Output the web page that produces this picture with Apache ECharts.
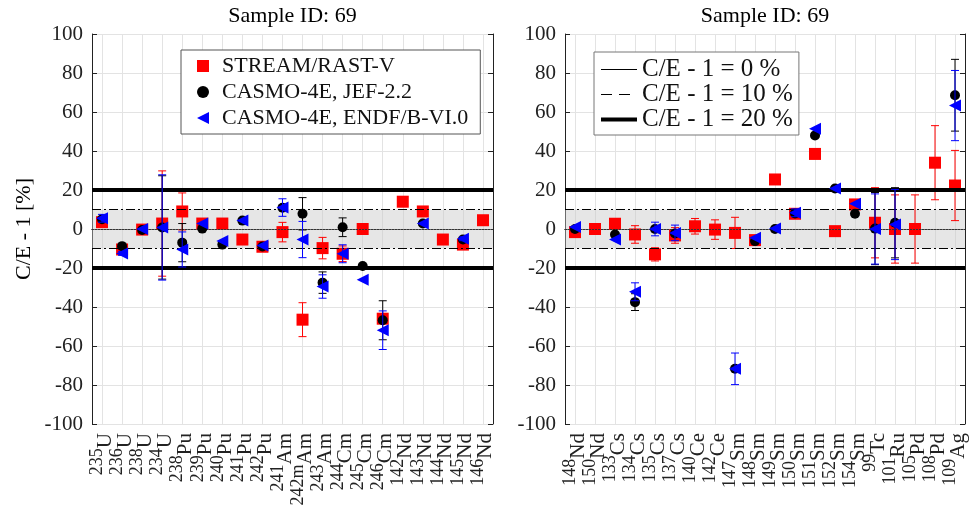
<!DOCTYPE html>
<html>
<head>
<meta charset="utf-8">
<script src="https://cdn.jsdelivr.net/npm/echarts@6/dist/echarts.min.js"></script>
<style>
html,body{margin:0;padding:0;background:#fff;}
#chart{width:973px;height:522px;}
</style>
</head>
<body>
<div id="chart"></div>
<script>
// ---------- DATA ----------
const title = 'Sample ID: 69';
const yTitle = 'C/E - 1 [%]';
const seriesNames = ['STREAM/RAST-V', 'CASMO-4E, JEF-2.2', 'CASMO-4E, ENDF/B-VI.0'];
const refNames = ['C/E - 1 = 0 %', 'C/E - 1 = 10 %', 'C/E - 1 = 20 %'];

const leftCats = ['235U','236U','238U','234U','238Pu','239Pu','240Pu','241Pu','242Pu','241Am',
                  '242mAm','243Am','244Cm','245Cm','246Cm','142Nd','143Nd','144Nd','145Nd','146Nd'];
const leftStream = [3.5,-10.5,-0.3,2.8,9,2.8,2.8,-5.4,-9.1,-1.6,-46.5,-9.8,-12.7,0,-46,14,9,-5.4,-8,4.5];
const leftStreamErr = [1,1,0,27,9.5,0,0,0,0,5,8.7,5.5,4,0,0,2.5,0,0,1,0];
const leftJef = [5,-8.8,-0.5,0.8,-7,0.2,-8,4.3,-9,10.9,7.8,-27.5,0.9,-19,-46.8,null,2.8,null,-5.4,null];
const leftJefErr = [1,1,0,26.5,9.8,0,0,0,0,0,8.3,5.5,4.8,0,10,0,0,0,0,0];
const leftEndf = [5.5,-12.5,0,0.8,-10.5,2.8,-6.2,4.3,-8.5,11,-5.4,-29.5,-12.7,-26,-51.9,null,2.8,null,-5,null];
const leftEndfErr = [2,1,0,27,9,0,0,0,0,4.5,9.3,6,4.6,0,9.9,0,0,0,1,0];

const rightCats = ['148Nd','150Nd','133Cs','134Cs','135Cs','137Cs','140Ce','142Ce','147Sm','148Sm',
                   '149Sm','150Sm','151Sm','152Sm','154Sm','99Tc','101Ru','105Pd','108Pd','109Ag'];
const rightStream = [-1.6,0,2.7,-2.8,-13,-3.3,1.4,-0.3,-2,-5.7,25.4,7.8,38.5,-1.1,12.6,3.2,0,0,34,22.3];
const rightStreamErr = [0,0,0,4.5,3.4,4,4,5,8,0,0,0,0,0,0,18,17.5,17.5,19,18];
const rightJef = [0,null,-2.8,-37.5,0,-2.3,null,null,-71.7,-6.2,0,8,48,20.8,7.8,0.2,3.2,null,null,68.6];
const rightJefErr = [0,0,0,4.3,0,0,0,0,0,0,0,0,0,0,0,18.5,18,0,0,18.4];
const rightEndf = [1,null,-5.4,-32.2,0,-2,null,null,-71.7,-4.5,0.3,8.3,51.4,20.8,13,0,2.3,null,null,63.3];
const rightEndfErr = [0,0,0,4.6,3.5,4,0,0,8.1,0,0,2,0,0,0,18,18,0,0,18];

const yTicks = {min: -100, max: 100, interval: 20};
// ---------- END DATA ----------

const FONT = '"Liberation Serif","Times New Roman",serif';
const RED = '#ff0000', BLK = '#000000', BLU = '#0000ff';

function labelFmt(v){
  const m = v.match(/^(\d+m?)(.*)$/);
  return '{m|' + m[1] + '}{e|' + m[2] + '}';
}

function errRender(color){
  return function(params, api){
    const x = api.value(0), y = api.value(1), e = api.value(2);
    const t = api.coord([x, y + e]), b = api.coord([x, y - e]);
    const w = 4;
    const st = {stroke: color, lineWidth: 1};
    return {type: 'group', children: [
      {type: 'line', shape: {x1: t[0], y1: t[1], x2: b[0], y2: b[1]}, style: st},
      {type: 'line', shape: {x1: t[0]-w, y1: t[1], x2: t[0]+w, y2: t[1]}, style: st},
      {type: 'line', shape: {x1: b[0]-w, y1: b[1], x2: b[0]+w, y2: b[1]}, style: st}
    ]};
  };
}

function pts(vals){ return vals.map((v,i)=> v==null ? null : [i, v]).filter(Boolean); }
function errPts(vals, errs){ return vals.map((v,i)=> (v==null || !errs[i]) ? null : [i, v, errs[i]]).filter(Boolean); }

const gridL = {left: 92, top: 33, width: 401, height: 391};
const gridR = {left: 565, top: 33, width: 400, height: 391};

function xAxes(cats, gi){
  return [
    {type: 'category', gridIndex: gi, data: cats, position: 'bottom', boundaryGap: true,
     axisLine: {lineStyle: {color: '#222', width: 1}},
     axisTick: {inside: true, length: 5, alignWithLabel: true, lineStyle: {color: '#222'}},
     splitLine: {show: true, alignWithLabel: true, lineStyle: {color: '#e3e3e3', width: 1}},
     axisLabel: {interval: 0, rotate: 90, margin: 9, formatter: labelFmt,
       rich: {m: {fontFamily: FONT, fontSize: 18, color: '#222', verticalAlign: 'top', lineHeight: 18},
              e: {fontFamily: FONT, fontSize: 21, color: '#222', lineHeight: 27, verticalAlign: 'bottom'}}}},
    {type: 'category', gridIndex: gi, data: cats, position: 'top', boundaryGap: true,
     name: title, nameLocation: 'middle', nameGap: 7,
     nameTextStyle: {fontFamily: FONT, fontSize: 22, color: '#000'},
     axisLine: {lineStyle: {color: '#222', width: 1}},
     axisTick: {inside: true, length: 5, alignWithLabel: true, lineStyle: {color: '#222'}},
     axisLabel: {show: false}, splitLine: {show: false}}
  ];
}
function yAxes(gi, withName){
  const base = {type: 'value', gridIndex: gi, min: yTicks.min, max: yTicks.max, interval: yTicks.interval};
  return [
    Object.assign({}, base, {position: 'left',
      name: withName ? yTitle : '', nameLocation: 'middle', nameGap: 57, nameRotate: 90,
      nameTextStyle: {fontFamily: FONT, fontSize: 22, color: '#000'},
      axisLine: {show: true, lineStyle: {color: '#222'}},
      axisTick: {show: true, inside: true, length: 5, lineStyle: {color: '#222'}},
      splitLine: {show: true, lineStyle: {color: '#e3e3e3'}},
      axisLabel: {fontFamily: FONT, fontSize: 21, color: '#222', margin: 9}}),
    Object.assign({}, base, {position: 'right',
      axisLine: {show: true, lineStyle: {color: '#222'}},
      axisTick: {show: true, inside: true, length: 5, lineStyle: {color: '#222'}},
      splitLine: {show: false}, axisLabel: {show: false}})
  ];
}

function refSeries(xi, yi){
  return [
    {type: 'line', name: '_band', xAxisIndex: xi, yAxisIndex: yi, data: [], z: 1, silent: true,
     markArea: {silent: true, itemStyle: {color: 'rgba(200,200,200,0.45)'}, data: [[{yAxis: -10}, {yAxis: 10}]]}},
    {type: 'line', name: refNames[0], xAxisIndex: xi, yAxisIndex: yi, data: [], z: 2, symbol: 'none',
     itemStyle: {color: '#000'},
     lineStyle: {color: '#000', width: 1, type: 'solid'},
     markLine: {silent: true, symbol: 'none', label: {show: false},
       lineStyle: {color: '#333', width: 1, type: [2, 1]}, data: [{yAxis: 0}]}},
    {type: 'line', name: refNames[1], xAxisIndex: xi, yAxisIndex: yi, data: [], z: 2, symbol: 'none',
     itemStyle: {color: '#000'},
     lineStyle: {color: '#000', width: 1, type: [10, 6]},
     markLine: {silent: true, symbol: 'none', label: {show: false},
       lineStyle: {color: '#000', width: 1, type: [9, 3, 2, 3]}, data: [{yAxis: 10}, {yAxis: -10}]}},
    {type: 'line', name: refNames[2], xAxisIndex: xi, yAxisIndex: yi, data: [], z: 2, symbol: 'none',
     itemStyle: {color: '#000'},
     lineStyle: {color: '#000', width: 4, type: 'solid'},
     markLine: {silent: true, symbol: 'none', label: {show: false},
       lineStyle: {color: '#000', width: 4, type: 'solid'}, data: [{yAxis: 20}, {yAxis: -20}]}}
  ];
}

function dataSeries(xi, yi, s, se, j, je, e, ee){
  return [
    {type: 'scatter', name: seriesNames[0], xAxisIndex: xi, yAxisIndex: yi, z: 4, symbol: 'rect', symbolSize: 12,
     itemStyle: {color: RED, opacity: 1}, data: pts(s)},
    {type: 'scatter', name: seriesNames[1], xAxisIndex: xi, yAxisIndex: yi, z: 6, symbol: 'circle', symbolSize: 10,
     itemStyle: {color: BLK, opacity: 1}, data: pts(j)},
    {type: 'scatter', name: seriesNames[2], xAxisIndex: xi, yAxisIndex: yi, z: 8, symbol: 'triangle', symbolSize: 12, symbolRotate: 90,
     itemStyle: {color: BLU, opacity: 1}, data: pts(e)},
    {type: 'custom', name: seriesNames[0] + ' err', xAxisIndex: xi, yAxisIndex: yi, z: 3, renderItem: errRender(RED), data: errPts(s, se), encode: {x: 0, y: 1}},
    {type: 'custom', name: seriesNames[1] + ' err', xAxisIndex: xi, yAxisIndex: yi, z: 5, renderItem: errRender(BLK), data: errPts(j, je), encode: {x: 0, y: 1}},
    {type: 'custom', name: seriesNames[2] + ' err', xAxisIndex: xi, yAxisIndex: yi, z: 7, renderItem: errRender(BLU), data: errPts(e, ee), encode: {x: 0, y: 1}}
  ];
}

const chart = echarts.init(document.getElementById('chart'), null, {renderer: 'canvas'});
chart.setOption({
  animation: false,
  backgroundColor: '#fff',
  grid: [gridL, gridR],
  xAxis: [].concat(xAxes(leftCats, 0), xAxes(rightCats, 1)),
  yAxis: [].concat(yAxes(0, true), yAxes(1, false)),
  legend: [
    {data: [
       {name: seriesNames[0], icon: 'rect'},
       {name: seriesNames[1], icon: 'circle'},
       {name: seriesNames[2], icon: 'path://M0,5L10,0L10,10Z'}
     ],
     orient: 'vertical', left: 181, top: 50,
     backgroundColor: '#fff', borderColor: '#555', borderWidth: 1, borderRadius: 0,
     padding: [5, 12, 5, 16], itemWidth: 12, itemHeight: 12, itemGap: 4,
     textStyle: {fontFamily: FONT, fontSize: 22, color: '#111', lineHeight: 22, padding: [0, 0, 0, 8]},
     selectedMode: false},
    {data: [
       {name: refNames[0], lineStyle: {color: '#000', width: 1, type: 'solid'}},
       {name: refNames[1], lineStyle: {color: '#000', width: 1, type: [11, 7]}},
       {name: refNames[2], lineStyle: {color: '#000', width: 4, type: 'solid'}}
     ],
     orient: 'vertical', left: 594, top: 52,
     backgroundColor: '#fff', borderColor: '#777', borderWidth: 1, borderRadius: 0,
     padding: [5, 6, 3, 5], itemWidth: 36, itemHeight: 14, itemGap: 0,
     itemStyle: {opacity: 0},
     textStyle: {fontFamily: FONT, fontSize: 25, color: '#111', lineHeight: 25},
     selectedMode: false}
  ],
  series: [].concat(
    refSeries(0, 0),
    dataSeries(0, 0, leftStream, leftStreamErr, leftJef, leftJefErr, leftEndf, leftEndfErr),
    refSeries(2, 2),
    dataSeries(2, 2, rightStream, rightStreamErr, rightJef, rightJefErr, rightEndf, rightEndfErr)
  )
});
</script>
</body>
</html>
